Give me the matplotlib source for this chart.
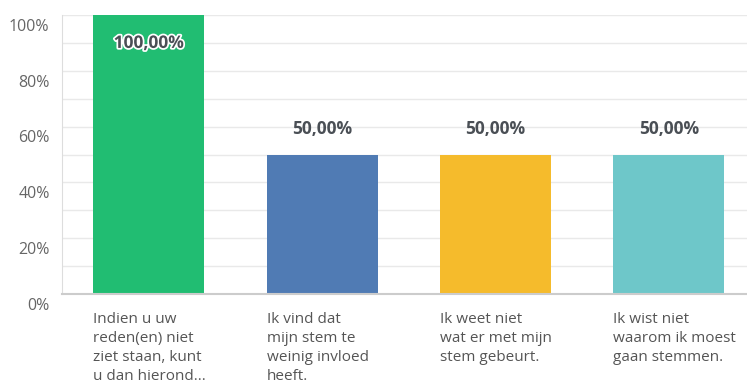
import numpy as np
import matplotlib.pyplot as plt
import matplotlib.patheffects as pe
from matplotlib.transforms import offset_copy

categories = ['Indien u uw\nreden(en) niet\nziet staan, kunt\nu dan hierond...',
              'Ik vind dat\nmijn stem te\nweinig invloed\nheeft.',
              'Ik weet niet\nwat er met mijn\nstem gebeurt.',
              'Ik wist niet\nwaarom ik moest\ngaan stemmen.']
values = [100, 50, 50, 50]
value_labels = ['100,00%', '50,00%', '50,00%', '50,00%']
colors = ['#21bd72', '#507bb4', '#f5bb2c', '#6ec7c9']
yticks = [0, 20, 40, 60, 80, 100]

plt.rcParams['font.family'] = ['Open Sans', 'DejaVu Sans']

fig = plt.figure(figsize=(7.47, 3.85), dpi=100)
ax = fig.add_axes([0.083, 0.236, 0.917, 0.725])

x = np.arange(len(values))
bar_w = 0.64
ax.bar(x, values, width=bar_w, color=colors, zorder=2)

ax.set_xlim(-0.5, 3.45)
ax.set_ylim(0, 100)

# light gridlines every 10%
for g in range(10, 101, 10):
    ax.axhline(g, color='#e9e9e9', lw=1, zorder=1)

ax.set_yticks(yticks)
ax.set_yticklabels([f'{t}%' for t in yticks])
ax.tick_params(axis='y', length=0, labelsize=11.5, labelcolor='#666666', pad=9)
for lbl in ax.get_yticklabels():
    lbl.set_transform(offset_copy(lbl.get_transform(), fig=fig, x=0, y=-7, units='points'))
ax.set_xticks([])

for s in ['top', 'right']:
    ax.spines[s].set_visible(False)
ax.spines['left'].set_color('#dddddd')
ax.spines['bottom'].set_color('#cccccc')
ax.spines['bottom'].set_linewidth(1.5)

# value labels
for i, v in enumerate(values):
    if v >= 90:
        ax.text(x[i], v - 10, value_labels[i], ha='center', va='center', fontsize=12.5,
                fontweight='bold', color='#4a4f55',
                path_effects=[pe.withStroke(linewidth=2.5, foreground='white')], zorder=3)
    else:
        ax.text(x[i], v + 9, value_labels[i], ha='center', va='center', fontsize=12.5,
                fontweight='bold', color='#4a4f55', zorder=3)

# category labels, left aligned under bars
for i, c in enumerate(categories):
    ax.text(x[i] - bar_w / 2, -6.5, c, ha='left', va='top', fontsize=11,
            color='#555555', linespacing=1.34)

fig.savefig('out.png', dpi=100)
